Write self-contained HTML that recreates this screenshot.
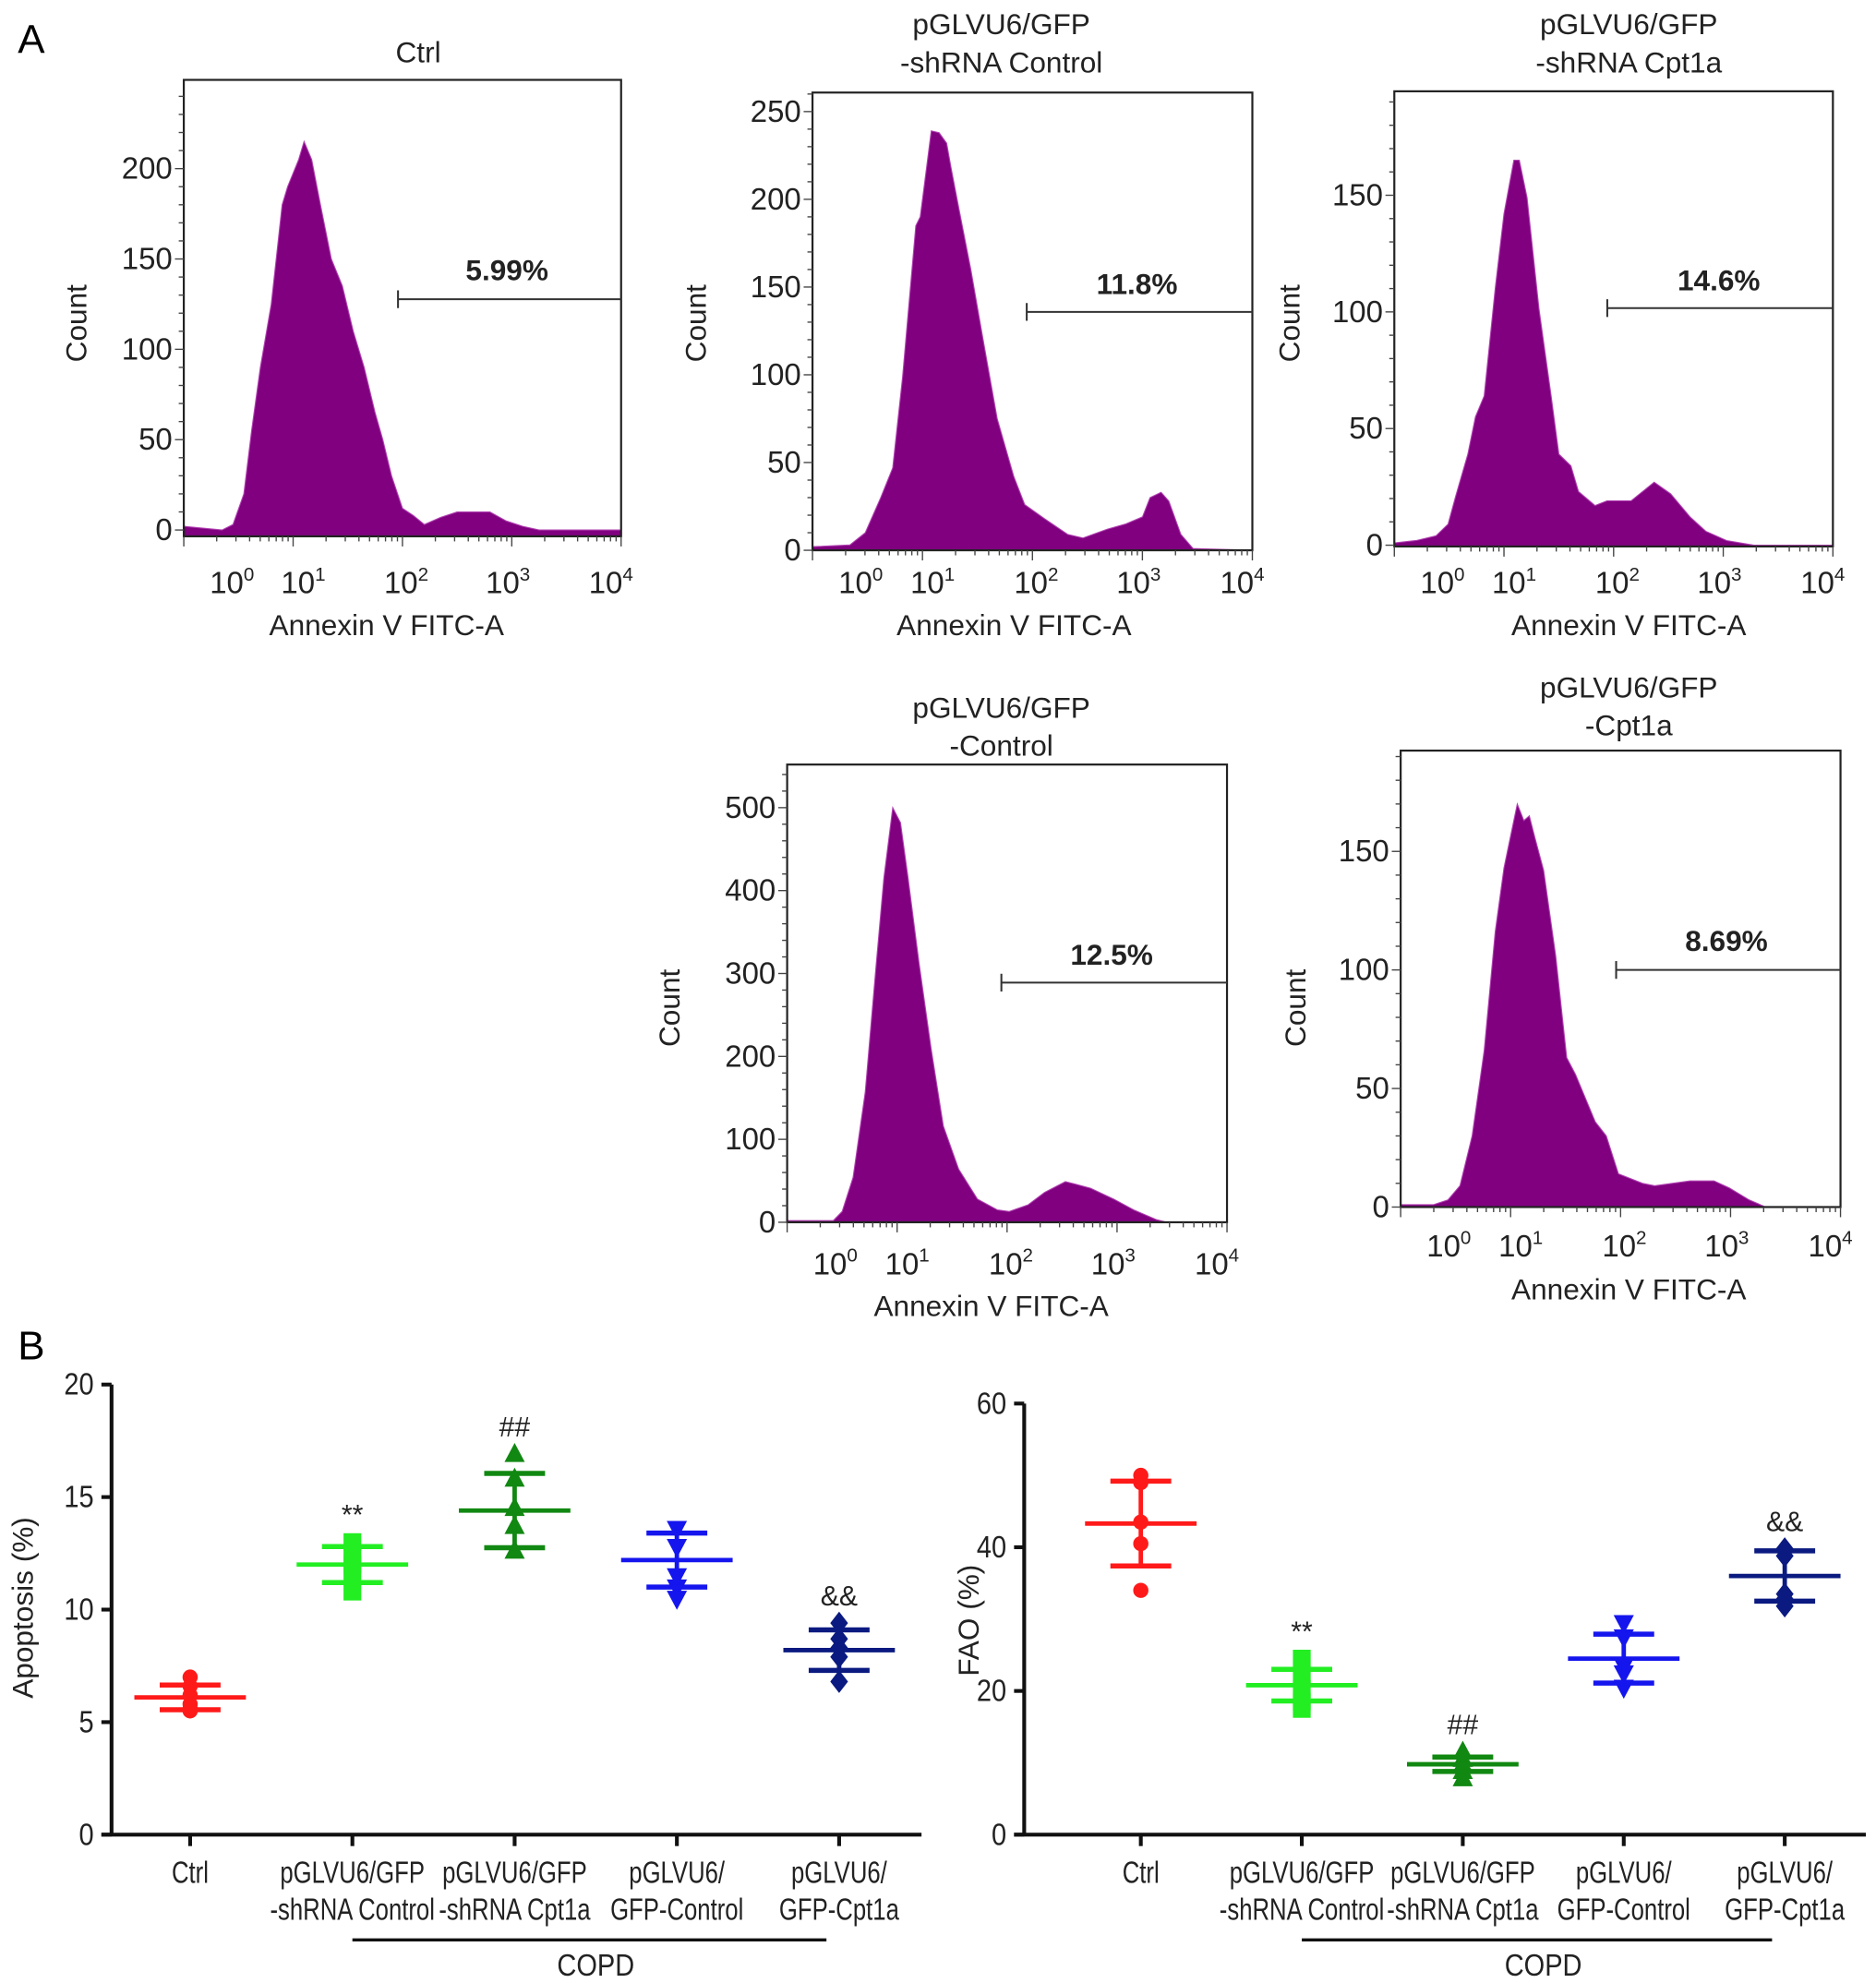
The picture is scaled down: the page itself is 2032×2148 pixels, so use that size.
<!DOCTYPE html>
<html><head><meta charset="utf-8"><style>
html,body{margin:0;padding:0;background:#fff;}
svg{display:block;font-family:"Liberation Sans",Arial,sans-serif;}
</style></head><body>
<svg id="fig" xmlns="http://www.w3.org/2000/svg" width="2032" height="2148" viewBox="0 0 1480 1564" preserveAspectRatio="none">
<rect width="1480" height="1564" fill="#fff"/>
<text x="14" y="42" font-size="32">A</text>
<text x="14" y="1072" font-size="32">B</text>
</svg>
<script>
// ---- Histogram data (log10 intensity, count) ----
const h1Log = [0,0.35,0.45,0.55,0.62,0.7,0.8,0.9,0.95,1.05,1.1,1.17,1.25,1.35,1.45,1.55,1.65,1.75,1.82,1.9,2.0,2.1,2.2,2.35,2.5,2.65,2.8,2.95,3.1,3.25,4];
const h1Count = [2,0,3,20,55,90,125,180,190,205,215,205,180,150,135,110,90,65,50,30,12,8,3,7,10,10,10,5,2,0,0];
const h2Log = [0,0.34,0.48,0.62,0.73,0.82,0.94,0.98,1.08,1.15,1.22,1.26,1.33,1.44,1.54,1.68,1.83,1.93,2.11,2.32,2.46,2.68,2.85,3.0,3.07,3.17,3.24,3.35,3.46,4];
const h2Count = [2,3,10,30,47,99,185,190,239,238,232,218,195,160,124,75,42,26,18,9,7,12,15,19,30,33,28,9,1,0];
const h3Log = [0,0.2,0.38,0.49,0.56,0.67,0.74,0.82,0.92,1.0,1.09,1.14,1.21,1.32,1.43,1.5,1.61,1.68,1.83,1.94,2.16,2.37,2.52,2.7,2.84,3.03,3.28,4];
const h3Count = [1,2,4,9,21,39,55,64,110,142,165,165,149,101,64,39,34,23,17,19,19,27,22,12,6,2,0,0];
const h4Log = [0,0.42,0.5,0.6,0.71,0.81,0.88,0.96,1.03,1.1,1.2,1.31,1.42,1.56,1.73,1.91,2.02,2.19,2.34,2.53,2.62,2.76,2.97,3.15,3.36,3.45,4];
const h4Count = [2,2,13,54,157,312,415,500,482,415,312,209,116,64,28,15,13,21,36,49,46,41,28,15,3,0,0];
const h5Log = [0,0.3,0.43,0.54,0.65,0.76,0.86,0.94,1.06,1.12,1.17,1.22,1.3,1.41,1.51,1.59,1.77,1.87,1.98,2.2,2.31,2.63,2.85,2.99,3.17,3.32,4];
const h5Count = [1,1,3,9,30,66,116,143,170,163,165,156,142,106,63,56,36,30,14,10,9,11,11,8,3,0,0];
const h1Ticks = [0,50,100,150,200];
const h2Ticks = [0,50,100,150,200,250];
const h3Ticks = [0,50,100,150];
const h4Ticks = [0,100,200,300,400,500];
const h5Ticks = [0,50,100,150];
const pctLabels = ['5.99%','11.8%','14.6%','12.5%','8.69%'];
const histTitles = [['Ctrl'],['pGLVU6/GFP','-shRNA Control'],['pGLVU6/GFP','-shRNA Cpt1a'],['pGLVU6/GFP','-Control'],['pGLVU6/GFP','-Cpt1a']];

// ---- Scatter data ----
const groups = ['Ctrl','pGLVU6/GFP -shRNA Control','pGLVU6/GFP -shRNA Cpt1a','pGLVU6/ GFP-Control','pGLVU6/ GFP-Cpt1a'];
const apoMean = [6.1,12.0,14.4,12.2,8.2];
const apoSD = [0.55,0.8,1.65,1.2,0.9];
const apoPts = [[7.0,6.6,6.2,5.8,5.5,5.6],[13.0,12.5,12.0,11.6,10.8],[16.9,15.8,14.5,13.7,12.6],[13.6,12.8,11.5,11.0,10.5],[9.4,8.7,8.3,7.9,6.8]];
const apoTicks = [0,5,10,15,20];
const faoMean = [43.3,20.8,9.8,24.5,36.0];
const faoSD = [5.9,2.2,1.0,3.4,3.5];
const faoPts = [[50,49,43.5,40.5,34],[24.5,22,20.3,18.5,17.5],[11.5,10.5,9.7,8.8,7.8],[29.5,27.5,23.5,22.5,20.5],[39.8,38.8,33.5,32.8,31.8]];
const faoTicks = [0,20,40,60];
const apoSig = ['','**','##','','&&'];
const faoSig = ['','**','##','','&&'];

const NS='http://www.w3.org/2000/svg';
const svg=document.getElementById('fig');
function mk(tag,attrs,parent){const e=document.createElementNS(NS,tag);for(const k in attrs)e.setAttribute(k,attrs[k]);(parent||svg).appendChild(e);return e;}

const histLayout=[
 {L:145,T:63,R:490,B:423,y0:418,ppu:1.425,gateY:236,gateX:314,pctX:400,pctY:221,tX:330,tY:[49],cX:68,cY:255,aX:305,aY:501,labY:468},
 {L:641,T:73,R:988,B:434,y0:434,ppu:1.384,gateY:246,gateX:810,pctX:897,pctY:232,tX:790,tY:[27,57],cX:557,cY:255,aX:800,aY:501,labY:468},
 {L:1100,T:72,R:1446,B:431,y0:430,ppu:1.84,gateY:243,gateX:1268,pctX:1356,pctY:229,tX:1285,tY:[27,57],cX:1025,cY:255,aX:1285,aY:501,labY:468},
 {L:621,T:603,R:968,B:964,y0:964,ppu:0.654,gateY:775,gateX:790,pctX:877,pctY:761,tX:790,tY:[566,596],cX:536,cY:795,aX:782,aY:1038,labY:1005},
 {L:1105,T:592,R:1452,B:952,y0:952,ppu:1.87,gateY:765,gateX:1275,pctX:1362,pctY:750,tX:1285,tY:[550,580],cX:1030,cY:795,aX:1285,aY:1025,labY:991}
];
const histLogs=[h1Log,h2Log,h3Log,h4Log,h5Log];
const histCounts=[h1Count,h2Count,h3Count,h4Count,h5Count];
const histTicks=[h1Ticks,h2Ticks,h3Ticks,h4Ticks,h5Ticks];
const labOff=[38,8,3,-3,-8];

histLayout.forEach((g,i)=>{
  const grp=mk('g',{});
  
  
  const xs=v=>g.L+(g.R-g.L)*v/4;
  const ys=c=>g.y0-c*g.ppu;
  const lg=histLogs[i],ct=histCounts[i];
  let d='M'+xs(lg[0])+','+g.B;
  lg.forEach((v,j)=>{d+=' L'+xs(v).toFixed(1)+','+Math.min(g.B,ys(ct[j])).toFixed(1);});
  d+=' L'+xs(lg[lg.length-1])+','+g.B+' Z';
  const p=mk('path',{d:d,fill:'#800080',stroke:'#b040b0','stroke-width':'0.8'},grp);
  
  
  const box=mk('rect',{x:g.L,y:g.T,width:g.R-g.L,height:g.B-g.T,fill:'none',stroke:'#222','stroke-width':'1.6'},grp);
  
  
  const tk=histTicks[i];const step=tk[1]-tk[0];const top=(g.y0-g.T)/g.ppu;
  for(let v=0;v<=top;v+=step/5){const y=ys(v);if(y<g.T)break;mk('line',{x1:g.L-(Math.abs(v%step)<1e-6?7:4),x2:g.L,y1:y,y2:y,stroke:'#444','stroke-width':'1'},grp);}
  tk.forEach(v=>{const t=mk('text',{x:g.L-9,y:ys(v)+8,'font-size':'24','text-anchor':'end',fill:'#222'},grp);t.textContent=v;
    
    });
  for(let k=0;k<4;k++){for(let m=1;m<10;m++){const x=xs(k+Math.log10(m));mk('line',{x1:x,x2:x,y1:g.B,y2:g.B+(m==1?8:4),stroke:'#444','stroke-width':'1'},grp);}}
  mk('line',{x1:g.R,x2:g.R,y1:g.B,y2:g.B+8,stroke:'#444','stroke-width':'1'},grp);
  for(let k=0;k<=4;k++){const t=mk('text',{x:xs(k)+labOff[k],y:g.labY,'font-size':'24','text-anchor':'middle',fill:'#222'},grp);
    t.innerHTML='10<tspan font-size="15" dy="-10">'+k+'</tspan>';
    
    }
  mk('line',{x1:g.gateX,x2:g.R,y1:g.gateY,y2:g.gateY,stroke:'#333','stroke-width':'1.5'},grp);
  mk('line',{x1:g.gateX,x2:g.gateX,y1:g.gateY-7,y2:g.gateY+7,stroke:'#333','stroke-width':'1.5'},grp);
  const pl=mk('text',{x:g.pctX,y:g.pctY,'font-size':'23','font-weight':'bold','text-anchor':'middle',fill:'#222'},grp);pl.textContent=pctLabels[i];
  
  
  histTitles[i].forEach((s,j)=>{const t=mk('text',{x:g.tX,y:g.tY[j],'font-size':'23','text-anchor':'middle',fill:'#222'},grp);t.textContent=s;
    
    });
  const ct1=mk('text',{x:g.cX,y:g.cY,'font-size':'23','text-anchor':'middle',fill:'#222',transform:'rotate(-90 '+g.cX+' '+g.cY+')'},grp);ct1.textContent='Count';
  
  
  const at=mk('text',{x:g.aX,y:g.aY,'font-size':'23','text-anchor':'middle',fill:'#222'},grp);at.textContent='Annexin V FITC-A';
  
  
});

const colors=['#ff1a1a','#22ee22','#118811','#1515ee','#0a1a80'];
const shapes=['circle','square','tri','itri','diamond'];
function marker(parent,shape,x,y,c){
  const s=7;let e;
  if(shape=='circle')e=mk('circle',{cx:x,cy:y,r:6,fill:c},parent);
  else if(shape=='square')e=mk('rect',{x:x-s,y:y-s,width:2*s,height:2*s,fill:c},parent);
  else if(shape=='tri')e=mk('polygon',{points:`${x},${y-9} ${x+8},${y+6} ${x-8},${y+6}`,fill:c},parent);
  else if(shape=='itri')e=mk('polygon',{points:`${x},${y+9} ${x+8},${y-6} ${x-8},${y-6}`,fill:c},parent);
  else e=mk('polygon',{points:`${x},${y-9} ${x+7},${y} ${x},${y+9} ${x-7},${y}`,fill:c},parent);
  
  
}
function scatter(cfg,means,sds,pts,ticks,sig){
  const grp=mk('g',{});
  
  
  const ys=v=>cfg.y0-v*cfg.ppu;
  const xs=i=>cfg.cx0+i*cfg.dx;
  mk('line',{x1:cfg.ax,x2:cfg.ax,y1:ys(ticks[ticks.length-1]),y2:cfg.y0+1,stroke:'#111','stroke-width':'3'},grp);
  mk('line',{x1:cfg.ax-8,x2:cfg.xEnd,y1:cfg.y0,y2:cfg.y0,stroke:'#111','stroke-width':'3'},grp);
  ticks.forEach(v=>{mk('line',{x1:cfg.ax-8,x2:cfg.ax,y1:ys(v),y2:ys(v),stroke:'#111','stroke-width':'3'},grp);
    const t=mk('text',{'font-size':'24','text-anchor':'end',fill:'#222',transform:`translate(${cfg.ax-14},${ys(v)+8}) scale(0.88,1)`},grp);t.textContent=v;
    
    });
  groups.forEach((gname,i)=>{
    const x=xs(i);
    mk('line',{x1:x,x2:x,y1:cfg.y0,y2:cfg.y0+9,stroke:'#111','stroke-width':'3'},grp);
    const parts=i==0?['Ctrl']:(i<3?[gname.split(' ')[0],gname.slice(gname.indexOf(' ')+1)]:gname.split(' '));
    parts.forEach((s,j)=>{const t=mk('text',{'font-size':'24','text-anchor':'middle',fill:'#222',transform:`translate(${x},${cfg.y0+38+29*j}) scale(0.78,1)`},grp);
      t.textContent=s;
      
      });
    const c=colors[i];
    pts[i].forEach(v=>marker(grp,shapes[i],x,ys(v),c));
    mk('line',{x1:x,x2:x,y1:ys(means[i]+sds[i]),y2:ys(means[i]-sds[i]),stroke:c,'stroke-width':'3.5'},grp);
    mk('line',{x1:x-24,x2:x+24,y1:ys(means[i]+sds[i]),y2:ys(means[i]+sds[i]),stroke:c,'stroke-width':'4'},grp);
    mk('line',{x1:x-24,x2:x+24,y1:ys(means[i]-sds[i]),y2:ys(means[i]-sds[i]),stroke:c,'stroke-width':'4'},grp);
    const ml=mk('line',{x1:x-44,x2:x+44,y1:ys(means[i]),y2:ys(means[i]),stroke:c,'stroke-width':'3.5'},grp);
    
    
    if(sig[i]){const top=Math.max(...pts[i]);const t=mk('text',{x:x,y:ys(top)-14,'font-size':'22','text-anchor':'middle',fill:'#222'},grp);t.textContent=sig[i];
      
      }
  });
  mk('line',{x1:xs(1),x2:xs(4)-10,y1:cfg.y0+83,y2:cfg.y0+83,stroke:'#111','stroke-width':'2.5'},grp);
  const cp=mk('text',{'font-size':'24','text-anchor':'middle',fill:'#222',transform:`translate(${(xs(1)+xs(4))/2},${cfg.y0+111}) scale(0.88,1)`},grp);cp.textContent='COPD';
  
  
  const yt=mk('text',{x:cfg.tX,y:cfg.tY,'font-size':'23','text-anchor':'middle',fill:'#222',transform:`rotate(-90 ${cfg.tX} ${cfg.tY})`},grp);yt.textContent=cfg.title;
  
  
}
scatter({name:'apoptosis-chart',ax:88,y0:1447,ppu:17.75,cx0:150,dx:128,xEnd:727,tX:26,tY:1268,title:'Apoptosis (%)'},apoMean,apoSD,apoPts,apoTicks,apoSig);
scatter({name:'fao-chart',ax:808,y0:1447,ppu:5.667,cx0:900,dx:127,xEnd:1472,tX:772,tY:1278,title:'FAO (%)'},faoMean,faoSD,faoPts,faoTicks,faoSig);
</script>
</body></html>
